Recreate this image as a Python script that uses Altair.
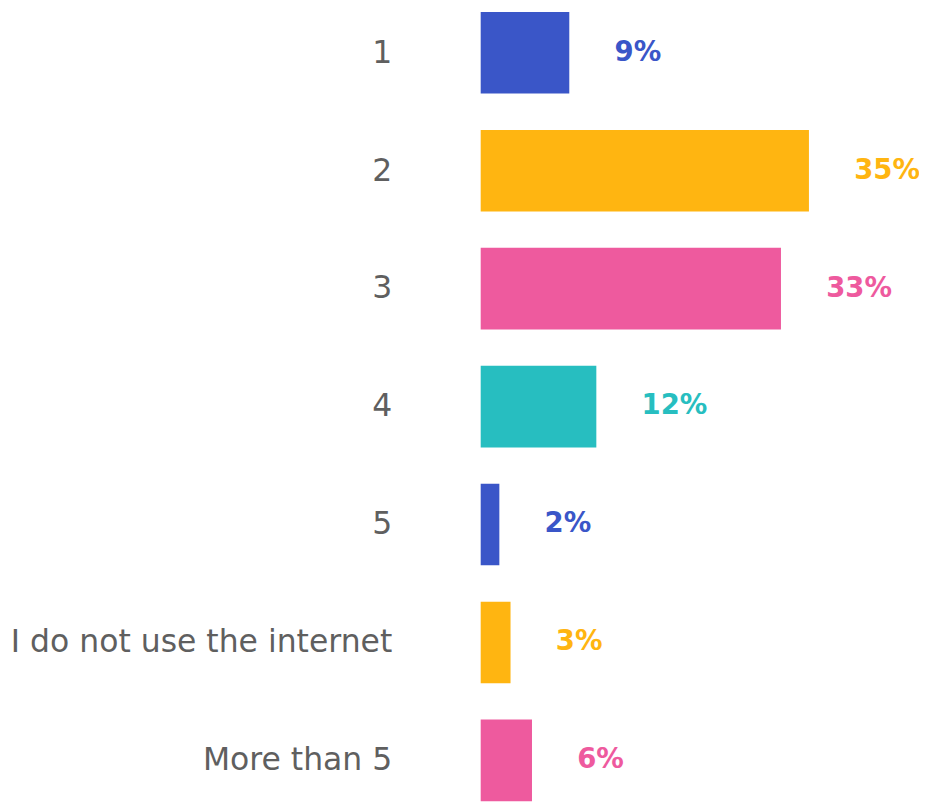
import altair as alt
import pandas as pd

categories = ["1", "2", "3", "4", "5", "I do not use the internet", "More than 5"]
values = [9.5, 35.2, 32.2, 12.4, 2.0, 3.2, 5.5]
labels = ["9%", "35%", "33%", "12%", "2%", "3%", "6%"]
colors = ["#3a56c8", "#ffb511", "#ee5a9e", "#27bec0", "#3a56c8", "#ffb511", "#ee5a9e"]

df = pd.DataFrame({"cat": categories, "val": values, "lab": labels, "col": colors})

y = alt.Y("cat:N", sort=categories, axis=None,
          scale=alt.Scale(range=[-5, 802], paddingInner=0.308, paddingOuter=0.0167))
x = alt.X("val:Q", axis=None, scale=alt.Scale(domain=[0, 45], range=[0, 427]))

bars = alt.Chart(df).mark_bar().encode(
    y=y, x=x, color=alt.Color("col:N", scale=None)
)
pct = alt.Chart(df).mark_text(align="left", baseline="middle", dx=46,
                              font="DejaVu Sans", fontSize=28, fontWeight="bold").encode(
    y=y, x=x, text="lab:N", color=alt.Color("col:N", scale=None)
)
cats = alt.Chart(df).mark_text(align="right", baseline="middle",
                               font="DejaVu Sans", fontSize=32, color="#5f5f5f").encode(
    y=y, x=alt.value(-90), text="cat:N"
)

chart = (bars + pct + cats).properties(
    width=427, height=807,
    autosize=alt.AutoSizeParams(type="none"),
    padding={"left": 481, "top": 0, "right": 19, "bottom": 0},
).configure_view(stroke=None)

chart.save("out.html", embed_options={"renderer": "svg", "actions": False})
